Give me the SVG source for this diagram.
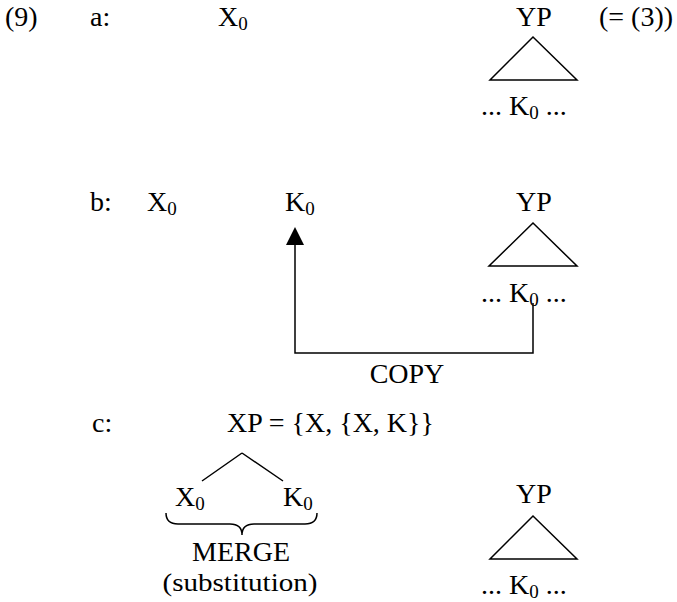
<svg xmlns="http://www.w3.org/2000/svg" width="677" height="602" viewBox="0 0 677 602">
<defs>
<style>
.sub{font-size:19px}
.ln{stroke:#000;stroke-width:1.5;fill:none}
</style>
</defs>
<rect width="677" height="602" fill="#fff"/>
<g id="labels">
<text font-family="Liberation Serif" font-size="28" x="5" y="26">(9)</text>
<text font-family="Liberation Serif" font-size="28" x="90" y="26">a:</text>
<text font-family="Liberation Serif" font-size="28" x="90" y="211">b:</text>
<text font-family="Liberation Serif" font-size="28" x="92" y="432">c:</text>
</g>
<g id="a-X0"><text font-family="Liberation Serif" font-size="28" x="218" y="26">X<tspan class="sub" dy="4">0</tspan></text></g>
<g id="a-YP">
<text font-family="Liberation Serif" font-size="28" x="534" y="26" text-anchor="middle">YP</text>
<path class="ln" d="M533,37 L490,80 L577,80 Z"/>
<text font-family="Liberation Serif" font-size="28" x="481" y="115">... K<tspan class="sub" dy="4">0</tspan><tspan dy="-4"> ...</tspan></text>
</g>
<g id="a-note"><text font-family="Liberation Serif" font-size="28" x="599" y="26">(= (3))</text></g>
<g id="b-X0"><text font-family="Liberation Serif" font-size="28" x="147" y="211">X<tspan class="sub" dy="4">0</tspan></text></g>
<g id="b-K0"><text font-family="Liberation Serif" font-size="28" x="285" y="211">K<tspan class="sub" dy="4">0</tspan></text></g>
<g id="b-YP">
<text font-family="Liberation Serif" font-size="28" x="534" y="211" text-anchor="middle">YP</text>
<path class="ln" d="M533,223 L489,266 L577,266 Z"/>
<text font-family="Liberation Serif" font-size="28" x="481" y="302">... K<tspan class="sub" dy="4">0</tspan><tspan dy="-4"> ...</tspan></text>
</g>
<g id="c-XP"><text font-family="Liberation Serif" font-size="28" x="227" y="432">XP = {X, {X, K}}</text></g>
<g id="c-X0"><text font-family="Liberation Serif" font-size="28" x="175" y="506">X<tspan class="sub" dy="4">0</tspan></text></g>
<g id="c-K0"><text font-family="Liberation Serif" font-size="28" x="283" y="506">K<tspan class="sub" dy="4">0</tspan></text></g>
<g id="c-merge">
<text font-family="Liberation Serif" font-size="28" x="241" y="561" text-anchor="middle">MERGE</text>
<text font-family="Liberation Serif" font-size="26" x="240" y="591" text-anchor="middle" textLength="155" lengthAdjust="spacingAndGlyphs">(substitution)</text>
</g>
<g id="c-YP">
<text font-family="Liberation Serif" font-size="28" x="534" y="503" text-anchor="middle">YP</text>
<path class="ln" d="M533,516 L490,559 L577,559 Z"/>
<text font-family="Liberation Serif" font-size="28" x="481" y="594">... K<tspan class="sub" dy="4">0</tspan><tspan dy="-4"> ...</tspan></text>
</g>
<g id="connectors">
<path class="ln" d="M533,303 L533,353 L295,353 L295,244"/>
<path d="M295,227 L286,245 L304,245 Z" fill="#000"/>
<text font-family="Liberation Serif" font-size="28" x="407" y="383" text-anchor="middle">COPY</text>
<path class="ln" d="M242,453 L202,481 M242,453 L283,481"/>
<path class="ln" d="M166,513 Q166,524 178,524 L230,524 Q242,524 242,535 Q242,524 254,524 L305,524 Q317,524 317,513"/>
</g>
</svg>
